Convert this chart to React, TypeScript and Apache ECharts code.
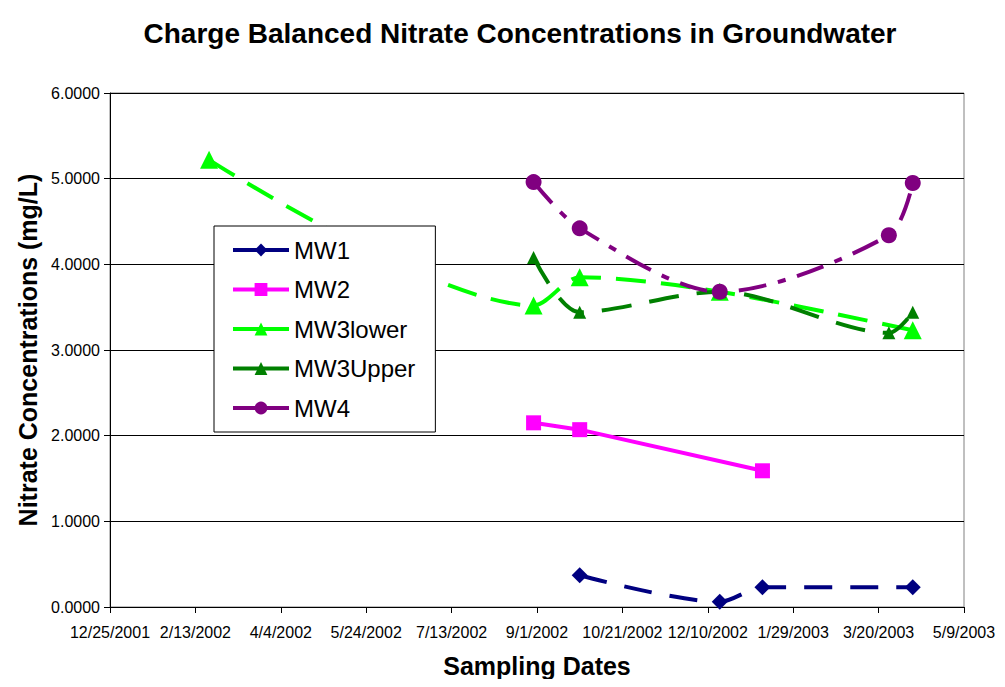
import React, { useEffect, useRef } from "react";
import * as echarts from "echarts";

const START = "2001-12-25";
const xTickStepDays = 50;
const xMaxDays = 500;
const yTicks = [0, 1, 2, 3, 4, 5, 6];

const mw1Dates = ["2002-09-26", "2002-12-17", "2003-01-11", "2003-04-09"];
const mw1Values = [0.37, 0.06, 0.23, 0.23];

const mw2Dates = ["2002-08-30", "2002-09-26", "2003-01-11"];
const mw2Values = [2.15, 2.07, 1.59];

const mw3LowerDates = ["2002-02-21", "2002-08-30", "2002-09-26", "2002-12-17", "2003-04-09"];
const mw3LowerValues = [5.22, 3.52, 3.85, 3.68, 3.23];

const mw3UpperDates = ["2002-08-30", "2002-09-26", "2002-12-17", "2003-03-26", "2003-04-09"];
const mw3UpperValues = [4.08, 3.44, 3.68, 3.2, 3.44];

const mw4Dates = ["2002-08-30", "2002-09-26", "2002-12-17", "2003-03-26", "2003-04-09"];
const mw4Values = [4.96, 4.42, 3.68, 4.34, 4.95];

const DAY = 86400000;
const [sy, sm, sd] = START.split("-").map(Number);
const startMs = Date.UTC(sy, sm - 1, sd);
const toDays = (s: string) => {
  const [y, m, d] = s.split("-").map(Number);
  return Math.round((Date.UTC(y, m - 1, d) - startMs) / DAY);
};
const pairs = (dates: string[], vals: number[]) => dates.map((d, i) => [toDays(d), vals[i]]);
const fmtDay = (v: number) => {
  const dt = new Date(startMs + v * DAY);
  return `${dt.getUTCMonth() + 1}/${dt.getUTCDate()}/${dt.getUTCFullYear()}`;
};

export default function App() {
  const ref = useRef<HTMLDivElement>(null);
  useEffect(() => {
    if (!ref.current) return;
    const chart = echarts.init(ref.current, undefined, { renderer: "svg" });
    const font = "Liberation Sans, Arial, sans-serif";
    const mk = (
      name: string,
      data: number[][],
      color: string,
      symbol: string,
      size: number,
      type: any,
      smooth: number | boolean
    ) => ({
      name,
      type: "line",
      data,
      smooth,
      symbol,
      symbolSize: size,
      itemStyle: { color },
      lineStyle: { color, width: 4, type },
      z: 3,
    });
    chart.setOption({
      animation: false,
      backgroundColor: "#fff",
      title: {
        text: "Charge Balanced Nitrate Concentrations in Groundwater",
        left: 515,
        top: 14,
        textAlign: "center",
        textStyle: { fontFamily: font, fontSize: 28, fontWeight: "bold", color: "#000" },
      },
      grid: {
        left: 110,
        right: 41,
        top: 93,
        bottom: 80,
        show: true,
        borderColor: "#808080",
        borderWidth: 1,
        backgroundColor: "transparent",
      },
      legend: {
        orient: "vertical",
        left: 214,
        top: 226,
        padding: [12, 20, 12, 17],
        itemGap: 15.5,
        itemWidth: 56,
        itemHeight: 16,
        backgroundColor: "#fff",
        borderColor: "#000",
        borderWidth: 1,
        textStyle: { fontFamily: font, fontSize: 24, lineHeight: 24, color: "#000" },
        lineStyle: { type: "solid", width: 4 },
        data: ["MW1", "MW2", "MW3lower", "MW3Upper", "MW4"],
      },
      xAxis: {
        type: "value",
        min: 0,
        max: xMaxDays,
        interval: xTickStepDays,
        name: "Sampling Dates",
        nameLocation: "middle",
        nameGap: 46,
        nameTextStyle: { fontFamily: font, fontSize: 25, fontWeight: "bold", color: "#000" },
        axisLine: { lineStyle: { color: "#000", width: 1 } },
        axisTick: { show: true, length: 6, lineStyle: { color: "#000" } },
        axisLabel: {
          fontFamily: font,
          fontSize: 16,
          color: "#000",
          margin: 17,
          formatter: (v: number) => fmtDay(v),
        },
        splitLine: { show: false },
      },
      yAxis: {
        type: "value",
        min: 0,
        max: 6,
        interval: 1,
        name: "Nitrate Concentrations (mg/L)",
        nameLocation: "middle",
        nameGap: 67,
        nameTextStyle: { fontFamily: font, fontSize: 25, fontWeight: "bold", color: "#000" },
        axisLine: { show: true, lineStyle: { color: "#000", width: 1 } },
        axisTick: { show: true, length: 6, lineStyle: { color: "#000" } },
        axisLabel: {
          fontFamily: font,
          fontSize: 16,
          color: "#000",
          margin: 10,
          formatter: (v: number) => (yTicks.includes(v) ? v.toFixed(4) : ""),
        },
        splitLine: { show: true, lineStyle: { color: "#000", width: 1 } },
      },
      series: [
        mk("MW1", pairs(mw1Dates, mw1Values), "#000080", "diamond", 16, [28, 18], 0.3),
        mk("MW2", pairs(mw2Dates, mw2Values), "#FF00FF", "rect", 15, "solid", false),
        mk("MW3lower", pairs(mw3LowerDates, mw3LowerValues), "#00FF00", "triangle", 18, [30, 15], 0.3),
        mk("MW3Upper", pairs(mw3UpperDates, mw3UpperValues), "#008000", "triangle", 13, [30, 18], 0.3),
        mk("MW4", pairs(mw4Dates, mw4Values), "#800080", "circle", 16, [28, 12, 8, 12], 0.3),
      ],
    });
    return () => chart.dispose();
  }, []);
  return <div ref={ref} style={{ width: 1005, height: 687, margin: -8 }} />;
}
